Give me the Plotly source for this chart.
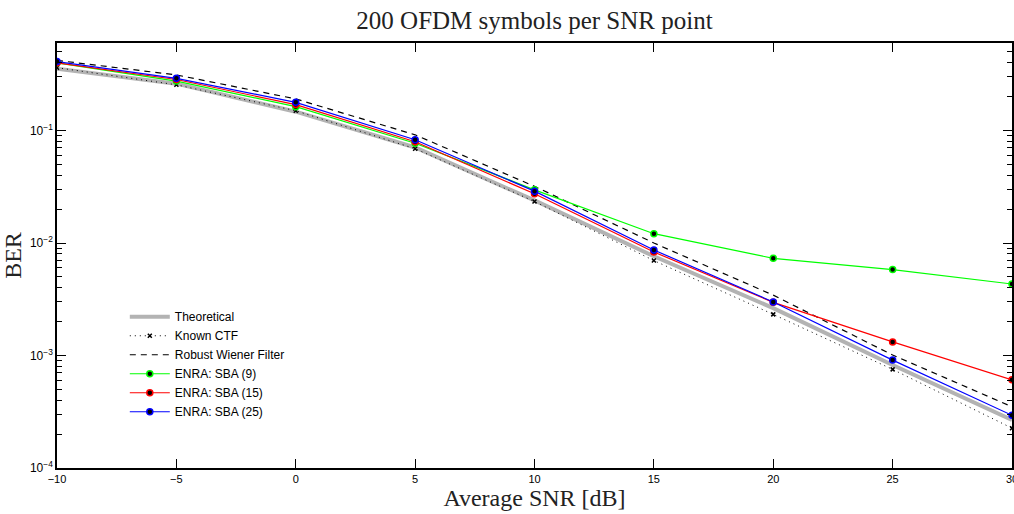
import plotly.graph_objects as go

snr = [-10, -5, 0, 5, 10, 15, 20, 25, 30]
ber_theory = [0.355, 0.261, 0.147, 0.0707, 0.0239, 0.00762, 0.00264, 0.000823, 0.000267]
ber_known = [0.362, 0.255, 0.150, 0.0689, 0.0234, 0.00698, 0.00232, 0.000753, 0.000226]
ber_wiener = [0.42, 0.312, 0.191, 0.0916, 0.0319, 0.0100, 0.00344, 0.00101, 0.00035]
ber_sba9 = [0.40, 0.275, 0.163, 0.0771, 0.0297, 0.0121, 0.00731, 0.00581, 0.00432]
ber_sba15 = [0.40, 0.284, 0.170, 0.0794, 0.0274, 0.00832, 0.00297, 0.00132, 0.000608]
ber_sba25 = [0.41, 0.291, 0.178, 0.0827, 0.0289, 0.00867, 0.00299, 0.00091, 0.000294]

names = ["Theoretical", "Known CTF", "Robust Wiener Filter",
         "ENRA: SBA (9)", "ENRA: SBA (15)", "ENRA: SBA (25)"]

y_tickvals = [1e-4, 1e-3, 1e-2, 1e-1]
y_ticktext = ["10<sup>−4</sup>", "10<sup>−3</sup>", "10<sup>−2</sup>", "10<sup>−1</sup>"]
x_tickvals = [-10, -5, 0, 5, 10, 15, 20, 25, 30]
x_ticktext = ["−10", "−5", "0", "5", "10", "15", "20", "25", "30"]

fig = go.Figure()
fig.add_trace(go.Scatter(x=snr, y=ber_theory, mode="lines", name=names[0],
                         line=dict(color="#b3b3b3", width=4)))
fig.add_trace(go.Scatter(x=snr, y=ber_known, mode="lines+markers", name=names[1],
                         line=dict(color="black", width=1, dash="1px,4px"),
                         marker=dict(symbol="x-thin", size=4, color="black",
                                     line=dict(color="black", width=1.5))))
fig.add_trace(go.Scatter(x=snr, y=ber_wiener, mode="lines", name=names[2],
                         line=dict(color="black", width=1.2, dash="6px,5px")))
for vals, nm, col in [(ber_sba9, names[3], "#00ff00"),
                      (ber_sba15, names[4], "#ff0000"),
                      (ber_sba25, names[5], "#0000ff")]:
    fig.add_trace(go.Scatter(x=snr, y=vals, mode="lines+markers", name=nm,
                             line=dict(color=col, width=1.2),
                             marker=dict(symbol="circle", size=6, color="black",
                                         line=dict(color=col, width=1.5))))

minor_y = []
for e in [-4, -3, -2, -1]:
    for m in range(2, 10):
        v = m * 10 ** e
        if v < 0.6:
            minor_y.append(v)

fig.update_layout(
    width=1014, height=514,
    margin=dict(l=57, r=2, t=43, b=46, autoexpand=False),
    paper_bgcolor="white", plot_bgcolor="white",
    title=dict(text="200 OFDM symbols per SNR point", x=0.5, xanchor="center",
               xref="paper", yref="container", y=0.96, yanchor="middle",
               font=dict(family="Liberation Serif", size=25, color="#222")),
    showlegend=True,
    legend=dict(x=0.071, y=0.39, xanchor="left", yanchor="top",
                bgcolor="rgba(0,0,0,0)", borderwidth=0,
                font=dict(family="Liberation Sans", size=12, color="black"),
                tracegroupgap=0, itemwidth=40),
    xaxis=dict(range=[-10, 30], tickvals=x_tickvals, ticktext=x_ticktext,
               ticks="inside", ticklen=9, tickwidth=1, tickcolor="black",
               showline=True, linecolor="black", linewidth=1.5, mirror="ticks",
               showgrid=False, zeroline=False, automargin=False,
               ticklabeloverflow="allow",
               tickfont=dict(family="Liberation Sans", size=11, color="black"),
               title=dict(text="Average SNR [dB]", standoff=4,
                          font=dict(family="Liberation Serif", size=24, color="#222"))),
    yaxis=dict(type="log", range=[-4, -0.222], tickvals=y_tickvals, ticktext=y_ticktext,
               ticks="inside", ticklen=9, tickwidth=1, tickcolor="black",
               showline=True, linecolor="black", linewidth=1.5, mirror="ticks",
               showgrid=False, zeroline=False, automargin=False,
               ticklabeloverflow="allow",
               tickfont=dict(family="Liberation Sans", size=12, color="black"),
               minor=dict(tickvals=minor_y, ticks="inside", ticklen=5, tickwidth=1,
                          tickcolor="black", showgrid=False),
               title=dict(text="BER", standoff=10,
                          font=dict(family="Liberation Serif", size=24, color="#222"))),
)

fig.write_html("out.html", config={"displayModeBar": False},
               post_script="document.body.style.margin='0';document.body.style.overflow='hidden';")
